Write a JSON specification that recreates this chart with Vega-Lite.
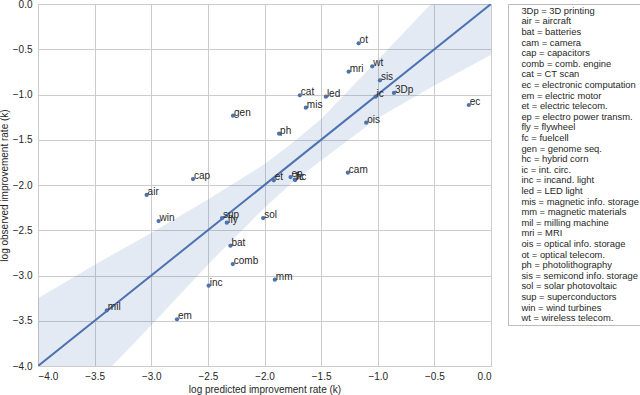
{
  "$schema": "https://vega.github.io/schema/vega-lite/v6.json",
  "autosize": "none",
  "width": 453,
  "height": 362,
  "padding": {"left": 38, "top": 4, "right": 149, "bottom": 29},
  "background": "white",
  "config": {
    "font": "Liberation Sans",
    "view": {"stroke": "#cccccc", "strokeWidth": 1},
    "axis": {
      "labelFont": "Liberation Sans", "labelFontSize": 10, "labelColor": "#262626",
      "titleFont": "Liberation Sans", "titleFontSize": 10, "titleFontWeight": "normal", "titleColor": "#262626",
      "gridColor": "#cccccc", "gridWidth": 1, "domain": false, "ticks": false, "tickSize": 0,
      "values": [-4, -3.5, -3, -2.5, -2, -1.5, -1, -0.5, 0], "format": ".1f"
    },
    "axisX": {"labelPadding": 5, "titlePadding": 3},
    "axisY": {"labelPadding": 6, "titlePadding": 3}
  },
  "encoding": {
    "x": {"field": "x", "type": "quantitative", "scale": {"domain": [-4, 0], "nice": false, "zero": false}, "title": "log predicted improvement rate (k)"},
    "y": {"field": "y", "type": "quantitative", "scale": {"domain": [-4, 0], "nice": false, "zero": false}, "title": "log observed improvement rate (k)"}
  },
  "layer": [
    {
      "data": {"values": [
        {"x": -4.0, "lo": -4.85, "hi": -3.25},
        {"x": -3.5, "lo": -4.2, "hi": -2.88},
        {"x": -3.0, "lo": -3.55, "hi": -2.53},
        {"x": -2.5, "lo": -2.88, "hi": -2.16},
        {"x": -2.0, "lo": -2.25, "hi": -1.77},
        {"x": -1.75, "lo": -1.97, "hi": -1.53},
        {"x": -1.5, "lo": -1.73, "hi": -1.27},
        {"x": -1.0, "lo": -1.26, "hi": -0.62},
        {"x": -0.5, "lo": -0.9, "hi": 0.04},
        {"x": 0.0, "lo": -0.56, "hi": 0.6}
      ]},
      "mark": {"type": "area", "color": "#4c72b0", "opacity": 0.15, "clip": true},
      "encoding": {
        "y": {"field": "hi", "type": "quantitative", "scale": {"domain": [-4, 0], "nice": false, "zero": false}, "title": "log observed improvement rate (k)"},
        "y2": {"field": "lo"}
      }
    },
    {
      "data": {"values": [{"x": -4.0, "y": -4.0}, {"x": 0.0, "y": 0.0}]},
      "mark": {"type": "line", "color": "#4c72b0", "strokeWidth": 2, "clip": true}
    },
    {
      "data": {"name": "pts", "values": [
        {"order": 1, "abbr": "3Dp", "key": "3Dp = 3D printing", "x": -0.857, "y": -0.983},
        {"order": 2, "abbr": "air", "key": "\u00a0air = aircraft", "x": -3.041, "y": -2.11},
        {"order": 3, "abbr": "bat", "key": "\u00a0bat = batteries", "x": -2.301, "y": -2.67},
        {"order": 4, "abbr": "cam", "key": "\u00a0cam = camera", "x": -1.264, "y": -1.864},
        {"order": 5, "abbr": "cap", "key": "\u00a0cap = capacitors", "x": -2.631, "y": -1.934},
        {"order": 6, "abbr": "comb", "key": "\u00a0comb = comb. engine", "x": -2.28, "y": -2.873},
        {"order": 7, "abbr": "cat", "key": "\u00a0cat = CT scan", "x": -1.688, "y": -1.009},
        {"order": 8, "abbr": "ec", "key": "\u00a0ec = electronic computation", "x": -0.196, "y": -1.116},
        {"order": 9, "abbr": "em", "key": "\u00a0em = electric motor", "x": -2.773, "y": -3.484},
        {"order": 10, "abbr": "et", "key": "\u00a0et = electric telecom.", "x": -1.918, "y": -1.948},
        {"order": 11, "abbr": "ep", "key": "\u00a0ep = electro power transm.", "x": -1.77, "y": -1.912},
        {"order": 12, "abbr": "fly", "key": "\u00a0fly = flywheel", "x": -2.333, "y": -2.416},
        {"order": 13, "abbr": "fc", "key": "\u00a0fc = fuelcell", "x": -1.729, "y": -1.945},
        {"order": 14, "abbr": "gen", "key": "\u00a0gen = genome seq.", "x": -2.278, "y": -1.234},
        {"order": 15, "abbr": "hc", "key": "\u00a0hc = hybrid corn", "x": -1.733, "y": -1.94},
        {"order": 16, "abbr": "ic", "key": "\u00a0ic = int. circ.", "x": -1.019, "y": -1.024},
        {"order": 17, "abbr": "inc", "key": "\u00a0inc = incand. light", "x": -2.493, "y": -3.113},
        {"order": 18, "abbr": "led", "key": "\u00a0led = LED light", "x": -1.458, "y": -1.024},
        {"order": 19, "abbr": "mis", "key": "\u00a0mis = magnetic info. storage", "x": -1.635, "y": -1.146},
        {"order": 20, "abbr": "mm", "key": "\u00a0mm = magnetic materials", "x": -1.909, "y": -3.046},
        {"order": 21, "abbr": "mil", "key": "\u00a0mil = milling machine", "x": -3.392, "y": -3.385},
        {"order": 22, "abbr": "mri", "key": "\u00a0mri = MRI", "x": -1.257, "y": -0.748},
        {"order": 23, "abbr": "ois", "key": "\u00a0ois = optical info. storage", "x": -1.102, "y": -1.311},
        {"order": 24, "abbr": "ot", "key": "\u00a0ot = optical telecom.", "x": -1.169, "y": -0.434},
        {"order": 25, "abbr": "ph", "key": "\u00a0ph = photolithography", "x": -1.871, "y": -1.433},
        {"order": 26, "abbr": "sis", "key": "\u00a0sis = semicond info. storage", "x": -0.981, "y": -0.843},
        {"order": 27, "abbr": "sol", "key": "\u00a0sol = solar photovoltaic", "x": -2.012, "y": -2.365},
        {"order": 28, "abbr": "sup", "key": "\u00a0sup = superconductors", "x": -2.375, "y": -2.365},
        {"order": 29, "abbr": "win", "key": "\u00a0win = wind turbines", "x": -2.935, "y": -2.398},
        {"order": 30, "abbr": "wt", "key": "\u00a0wt = wireless telecom.", "x": -1.049, "y": -0.689}
      ]},
      "layer": [
        {
          "mark": {"type": "circle", "opacity": 1, "size": 18},
          "encoding": {
            "color": {
              "field": "key", "type": "nominal",
              "sort": {"field": "order"},
              "scale": {"range": ["#4c72b0"]},
              "legend": {
                "title": null, "orient": "right", "offset": 17, "padding": 2,
                "strokeColor": "#bbbbbb", "fillColor": "white", "cornerRadius": 0,
                "labelFont": "Liberation Sans", "labelFontSize": 9.4, "labelColor": "#262626",
                "labelLimit": 300, "labelOffset": 2, "rowPadding": -0.4,
                "symbolSize": 1, "symbolOpacity": 0, "symbolStrokeWidth": 0
              }
            }
          }
        },
        {
          "mark": {"type": "text", "align": "left", "baseline": "alphabetic", "dx": 1, "fontSize": 10, "color": "#262626", "font": "Liberation Sans"},
          "encoding": {
            "text": {"field": "abbr"}
          }
        }
      ]
    }
  ]
}
